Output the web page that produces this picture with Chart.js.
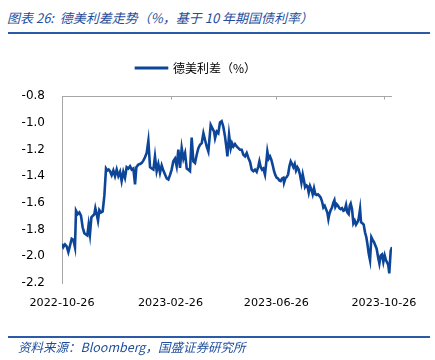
<!DOCTYPE html>
<html>
<head>
<meta charset="utf-8">
<script src="https://cdn.jsdelivr.net/npm/chart.js@4"></script>
<style>
  body { margin: 0; background: #fff; }
  #wrap { position: relative; width: 435px; height: 360px; overflow: hidden; }
  #chart { position: absolute; left: 0; top: 0; }
  .title {
    position: absolute; left: 7px; top: 8px;
    font: italic 13px "Noto Sans CJK SC", sans-serif;
    color: #1f4e9c; white-space: nowrap;
  }
  .source {
    position: absolute; left: 18px; top: 337px;
    font: italic 12.5px "Noto Sans CJK SC", sans-serif;
    color: #1f4e9c; white-space: nowrap;
  }
  .rule { position: absolute; left: 8px; width: 422px; height: 2px; background: #2b5aa8; }
</style>
</head>
<body>
<div id="wrap">
  <div class="title">图表 26:&nbsp; 德美利差走势（%，基于 10 年期国债利率）</div>
  <div class="rule" style="top:32px"></div>
  <canvas id="chart" width="435" height="360"></canvas>
  <div class="rule" style="top:336px"></div>
  <div class="source">资料来源：Bloomberg，国盛证券研究所</div>
</div>
<script>
// days after 2022-10-26
const days = [
    0, 1.5, 3.4, 5.3, 7.2, 9.1, 11, 12.9, 14.7, 15.9, 17.8, 19.7, 21.5, 23.4, 25.3, 27.2, 28.7, 30.2, 31.7, 33.3,
    35.1, 36.7, 37.8, 39.3, 40.8, 42.3, 44.2, 46.1, 48, 49.9, 51.4, 52.9, 54.4, 56.3, 58.2, 60.1, 62, 63.9, 65.8, 67.6,
    69.5, 71.4, 73.3, 75.2, 77.1, 79, 80.9, 82.8, 84.3, 86.5, 88.4, 90.3, 92.2, 94.1, 96, 97.9, 99.8, 101.7, 103.6, 105.4,
    107.3, 109.2, 111.1, 113, 114.9, 116.8, 118.7, 120.6, 122.4, 124.3, 126.2, 128.1, 130, 131.9, 133.8, 135.7, 137.6, 139.5, 141.4, 143.2,
    145.1, 147, 148.9, 150.8, 152.7, 154.6, 156.5, 158.4, 160.3, 162.1, 164, 165.9, 168.6, 170.5, 172.4, 173.5, 175.4, 177.2, 179.1, 181,
    182.9, 184.8, 186.7, 187.5, 189.4, 191.3, 192.7, 194.3, 196.1, 198, 199.9, 201.8, 203.7, 205.6, 207.5, 209.4, 211.3, 213.2, 215, 216.9,
    218.8, 220.7, 222.6, 223.8, 225.3, 226.8, 228.2, 230.1, 231.7, 232.8, 234.3, 235.8, 237.3, 238.9, 240.4, 241.9, 243.4, 244.9, 246.4, 247.9,
    249.5, 251, 251.7, 253.2, 254.7, 256.3, 257.8, 259.3, 260.8, 262.3, 263.8, 265.3, 266.8, 268.3, 269.9, 271.4, 272.9, 274.4, 275.5, 276.7,
    278.2, 279.7, 281.2, 282.7, 284.2, 285.7, 287.2, 288.7, 290.2, 291.8, 293.3, 294.8, 296.3, 297.8, 299.3, 300.8, 302, 303.1, 304.6, 306.1,
    307.6, 308.8, 309.9, 311.4, 312.9, 314.4, 315.9, 317.4, 319, 320.5, 322, 323.5, 325, 326.2, 327.3, 328.8, 330.3, 331.8, 333.3, 334.8,
    336.3, 337.9, 339, 340.5, 342, 343.5, 345, 346.2, 347.7, 349.2, 350.7, 352.2, 353.7, 355.2, 356.7, 358.3, 359.8, 361.3, 362.8, 364.3,
    365.8, 367.3, 368.8, 369.9, 371, 372.6, 374.1
];

const spread = [
    -1.906, -1.931, -1.911, -1.926, -1.968, -1.919, -1.869, -1.877, -1.931, -1.659, -1.684, -1.672, -1.696, -1.783, -1.827, -1.837, -1.844, -1.763, -1.837, -1.709,
    -1.696, -1.684, -1.640, -1.684, -1.733, -1.654, -1.672, -1.664, -1.548, -1.343, -1.358, -1.351, -1.363, -1.393, -1.358, -1.400, -1.351, -1.400, -1.368, -1.437,
    -1.368, -1.412, -1.333, -1.343, -1.326, -1.351, -1.343, -1.462, -1.333, -1.314, -1.309, -1.301, -1.284, -1.259, -1.227, -1.136, -1.333, -1.343, -1.351, -1.252,
    -1.363, -1.309, -1.375, -1.319, -1.358, -1.388, -1.417, -1.425, -1.393, -1.351, -1.289, -1.269, -1.326, -1.202, -1.338, -1.190, -1.269, -1.227, -1.343, -1.351,
    -1.363, -1.111, -1.289, -1.301, -1.240, -1.190, -1.165, -1.153, -1.079, -1.128, -1.178, -1.215, -1.017, -1.042, -1.067, -1.116, -1.067, -1.079, -0.998, -0.988,
    -1.030, -1.104, -1.202, -1.252, -1.091, -1.190, -1.153, -1.178, -1.160, -1.178, -1.190, -1.202, -1.202, -1.240, -1.252, -1.227, -1.264, -1.294, -1.351, -1.363,
    -1.351, -1.368, -1.326, -1.289, -1.333, -1.351, -1.343, -1.388, -1.289, -1.215, -1.269, -1.252, -1.277, -1.319, -1.363, -1.393, -1.412, -1.417, -1.432, -1.437,
    -1.417, -1.412, -1.449, -1.417, -1.407, -1.388, -1.326, -1.289, -1.309, -1.333, -1.309, -1.358, -1.333, -1.351, -1.393, -1.449, -1.388, -1.437, -1.481, -1.467,
    -1.474, -1.523, -1.474, -1.499, -1.536, -1.491, -1.536, -1.541, -1.536, -1.548, -1.561, -1.590, -1.635, -1.622, -1.647, -1.672, -1.721, -1.684, -1.654, -1.635,
    -1.598, -1.580, -1.630, -1.610, -1.622, -1.640, -1.647, -1.640, -1.659, -1.654, -1.615, -1.672, -1.684, -1.622, -1.605, -1.647, -1.753, -1.733, -1.763, -1.746,
    -1.721, -1.647, -1.746, -1.753, -1.763, -1.820, -1.857, -1.906, -1.980, -2.030, -1.857, -1.877, -1.894, -1.919, -1.943, -2.005, -2.054, -1.993, -1.985, -2.042,
    -1.993, -2.030, -2.049, -2.067, -2.128, -1.960, -1.931
];

const tickDays = [0, 123, 243, 365];
const tickLabels = ['2022-10-26', '2023-02-26', '2023-06-26', '2023-10-26'];

const lineColor = '#0d4599';
const axisGray = '#a6a6a6';

const points = days.map((d, i) => ({ x: d, y: spread[i] }));

function setDateTicks(scale) {
    scale.ticks = tickDays.map(v => ({ value: v }));
}

// the category axis sits on top (values are all negative), ticks pointing down
const topAxis = {
    id: 'topAxis',
    afterDatasetsDraw(chart) {
        const { ctx, chartArea, scales } = chart;
        const y = Math.round(chartArea.top) + 0.5;
        ctx.save();
        ctx.strokeStyle = axisGray;
        ctx.lineWidth = 1;
        ctx.beginPath();
        ctx.moveTo(chartArea.left, y);
        ctx.lineTo(chartArea.right, y);
        tickDays.forEach(d => {
            const x = Math.round(scales.x.getPixelForValue(d)) + 0.5;
            ctx.moveTo(x, y);
            ctx.lineTo(x, y + 3);
        });
        ctx.stroke();
        ctx.restore();
    }
};

new Chart(document.getElementById('chart'), {
    type: 'line',
    data: {
        datasets: [{
            label: '德美利差（%）',
            data: points,
            borderColor: lineColor,
            backgroundColor: lineColor,
            borderWidth: 2.6,
            pointRadius: 0,
            tension: 0
        }]
    },
    options: {
        responsive: false,
        animation: false,
        layout: { padding: { top: 56, right: 43, left: 0, bottom: 0 } },
        plugins: {
            legend: {
                position: 'top',
                labels: {
                    boxWidth: 31,
                    boxHeight: 0.5,
                    padding: 6,
                    color: '#000',
                    font: { family: 'Noto Sans CJK SC', size: 12 }
                }
            },
            tooltip: { enabled: false }
        },
        scales: {
            x: {
                type: 'linear',
                position: 'bottom',
                min: 0,
                max: 374.1,
                afterBuildTicks: setDateTicks,
                afterFit: scale => { scale.height = 77; },
                grid: { display: false, drawTicks: false },
                border: { display: false },
                ticks: {
                    padding: 13,
                    maxRotation: 0,
                    color: '#000',
                    font: { family: 'DejaVu Sans', size: 11.2 },
                    callback: (v, i) => tickLabels[i]
                }
            },
            x2: {
                type: 'linear',
                position: 'top',
                min: 0,
                max: 374.1,
                afterFit: scale => { scale.height = 12; },
                grid: { display: false },
                border: { display: false },
                ticks: { display: false }
            },
            y: {
                min: -2.2,
                max: -0.8,
                afterFit: scale => { scale.width = 62; },
                grid: { display: false, drawTicks: false },
                border: { display: true, color: axisGray, width: 1 },
                ticks: {
                    stepSize: 0.2,
                    padding: 17,
                    color: '#000',
                    font: { family: 'DejaVu Sans', size: 12 },
                    callback: v => v.toFixed(1)
                }
            }
        }
    },
    plugins: [topAxis]
});
</script>
</body>
</html>
